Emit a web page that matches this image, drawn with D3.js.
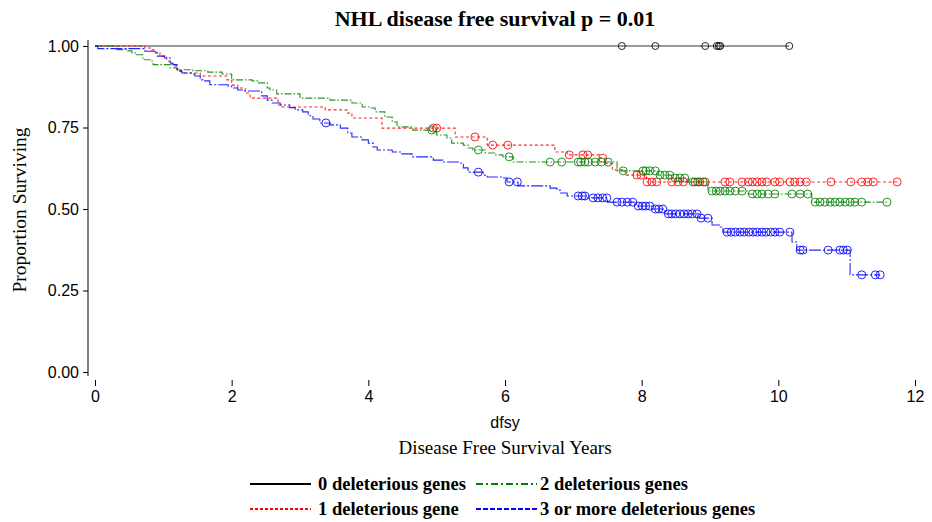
<!DOCTYPE html>
<html>
<head>
<meta charset="utf-8">
<script src="https://cdn.jsdelivr.net/npm/d3@7"></script>
<style>
  body { margin: 0; background: #fff; }
  svg { display: block; }
</style>
</head>
<body>
<div id="chart"></div>
<script>
// Kaplan-Meier curves, values

// Tick labels
var xTicks = [0, 2, 4, 6, 8, 10, 12];
var yTicks = [0, 0.25, 0.5, 0.75, 1];

// Group names (legend order)
var groupNames = ["0 deleterious genes", "1 deleterious gene", "2 deleterious genes", "3 or more deleterious genes"];

// 0 deleterious genes: no events, only censored
var g0Times = [];
var g0Surv = [];
var g0Censor = [7.71, 8.20, 8.93, 9.10, 9.13, 9.15, 10.16];

// 1 deleterious gene
var g1Times = [0.73, 0.83, 0.88, 0.95, 1.05, 1.10, 1.17, 1.21, 1.27, 1.54, 1.93, 2.00, 2.09, 2.20, 2.27, 2.66, 2.68, 2.74,
  3.37, 3.70, 3.76, 4.20, 5.27, 5.74, 6.73, 6.91, 7.39, 7.46, 7.57, 7.76, 8.07];
var g1Surv = [0.994, 0.988, 0.979, 0.969, 0.954, 0.945, 0.939, 0.923, 0.917, 0.908, 0.896, 0.880, 0.871, 0.856, 0.840, 0.834, 0.819, 0.813,
  0.804, 0.794, 0.779, 0.748, 0.721, 0.696, 0.675, 0.666, 0.656, 0.640, 0.620, 0.604, 0.583];
var g1Censor = [4.95, 5.00, 5.56, 5.82, 6.04, 6.94, 7.14, 7.21, 7.43, 7.93, 7.99, 8.08, 8.15, 8.22, 8.44, 8.53, 8.61, 8.78, 8.85, 8.93,
  9.22, 9.29, 9.47, 9.56, 9.62, 9.69, 9.76, 9.83, 9.95, 10.02, 10.17, 10.24, 10.32, 10.41, 10.77, 11.06, 11.22, 11.31, 11.39, 11.74];

// 2 deleterious genes
var g2Times = [0.32, 0.48, 0.54, 0.61, 0.70, 0.83, 0.85, 1.10, 1.20, 1.43, 1.65, 1.86, 2.00, 2.30, 2.39, 2.52, 2.56, 2.66,
  3.00, 3.44, 3.76, 3.91, 4.02, 4.10, 4.24, 4.35, 4.42, 4.65, 5.00, 5.15, 5.22, 5.39, 5.46, 5.53, 5.71, 5.85, 5.97, 6.12,
  7.64, 8.24, 8.44, 8.68, 8.97, 9.56, 10.49];
var g2Surv = [0.989, 0.985, 0.979, 0.973, 0.958, 0.954, 0.943, 0.933, 0.927, 0.924, 0.920, 0.914, 0.896, 0.893, 0.887, 0.871, 0.865, 0.853,
  0.840, 0.834, 0.825, 0.813, 0.810, 0.798, 0.782, 0.767, 0.752, 0.742, 0.727, 0.718, 0.702, 0.696, 0.687, 0.681, 0.672, 0.666, 0.660, 0.644,
  0.617, 0.604, 0.595, 0.583, 0.555, 0.546, 0.521];
var g2Censor = [4.93, 5.61, 6.06, 6.66, 6.83, 7.07, 7.11, 7.17, 7.22, 7.32, 7.41, 7.51, 7.73, 8.02, 8.06, 8.12, 8.20, 8.27, 8.34, 8.41,
  8.49, 8.56, 8.63, 8.75, 8.82, 8.90, 9.03, 9.09, 9.15, 9.22, 9.29, 9.37, 9.47, 9.62, 9.69, 9.76, 9.85, 9.95, 10.20, 10.32, 10.43,
  10.54, 10.61, 10.68, 10.76, 10.83, 10.90, 10.98, 11.05, 11.12, 11.22, 11.59];

// 3 or more deleterious genes
var g3Times = [0.04, 0.73, 0.91, 1.02, 1.10, 1.14, 1.20, 1.24, 1.27, 1.42, 1.46, 1.54, 1.58, 1.68, 1.95, 2.00, 2.09, 2.17, 2.44, 2.52,
  2.59, 2.71, 2.85, 2.93, 3.04, 3.12, 3.19, 3.29, 3.44, 3.59, 3.70, 3.76, 3.91, 4.00, 4.07, 4.13, 4.35, 4.49, 4.64, 4.95, 5.09,
  5.34, 5.39, 5.46, 5.68, 5.74, 5.97, 6.03, 6.19, 6.66, 6.76, 6.81, 6.91, 7.21, 7.50, 7.92, 8.15, 8.34, 8.84, 9.03, 9.15, 9.19,
  10.20, 10.27, 11.05];
var g3Surv = [0.992, 0.984, 0.969, 0.963, 0.948, 0.943, 0.927, 0.923, 0.917, 0.914, 0.908, 0.896, 0.893, 0.881, 0.877, 0.871, 0.865, 0.862, 0.847, 0.834,
  0.825, 0.819, 0.811, 0.804, 0.798, 0.786, 0.776, 0.764, 0.758, 0.748, 0.733, 0.721, 0.712, 0.702, 0.690, 0.681, 0.675, 0.669, 0.660, 0.650, 0.644,
  0.641, 0.626, 0.613, 0.604, 0.598, 0.595, 0.583, 0.571, 0.564, 0.558, 0.549, 0.540, 0.534, 0.521, 0.509, 0.500, 0.485, 0.472, 0.451, 0.445, 0.429,
  0.399, 0.374, 0.298];
var g3Censor = [3.38, 5.61, 6.06, 6.18, 7.07, 7.13, 7.17, 7.29, 7.36, 7.43, 7.49, 7.64, 7.71, 7.79, 7.87, 7.95, 8.01, 8.06, 8.12,
  8.20, 8.25, 8.31, 8.39, 8.44, 8.50, 8.56, 8.62, 8.68, 8.74, 8.81, 8.87, 8.97, 9.25, 9.31, 9.37, 9.44, 9.50, 9.57, 9.63, 9.69,
  9.76, 9.82, 9.89, 9.95, 10.02, 10.17, 10.32, 10.36, 10.73, 10.90, 10.95, 11.01, 11.22, 11.42, 11.49];

// Series styles
var colors = ["#000000", "#ff0000", "#008000", "#0000ff"];
var dashes = [null, "3,2.5", "7,2,1.5,2", "12,2,2,2"];
var legendDashes = [null, "3,2", "7,3,2,3", "5,2"];

var groups = [
  { times: g0Times, surv: g0Surv, censor: g0Censor },
  { times: g1Times, surv: g1Surv, censor: g1Censor },
  { times: g2Times, surv: g2Surv, censor: g2Censor },
  { times: g3Times, surv: g3Surv, censor: g3Censor }
];

// SVG setup
var svgWidth = 932;
var svgHeight = 522;
var serif = "'Liberation Serif', 'Times New Roman', serif";
var sans = "'Liberation Sans', Arial, sans-serif";

var svg = d3.select("#chart").append("svg")
  .attr("width", svgWidth)
  .attr("height", svgHeight);

// Scales
var xScale = d3.scaleLinear().domain([0, 12]).range([95, 915]);
var yScale = d3.scaleLinear().domain([0, 1]).range([372, 46]);

// Title
svg.append("text")
  .attr("x", 495)
  .attr("y", 26)
  .attr("text-anchor", "middle")
  .style("font-family", serif)
  .style("font-weight", "bold")
  .style("font-size", "22px")
  .text("NHL disease free survival p = 0.01");

// Y axis
var yAxis = d3.axisLeft(yScale)
  .tickValues(yTicks)
  .tickFormat(d3.format(".2f"))
  .tickSize(5)
  .tickSizeOuter(0);
var yAxisG = svg.append("g")
  .attr("transform", "translate(88,0)")
  .call(yAxis);
yAxisG.select(".domain").attr("d", "M0,40V376");
yAxisG.selectAll("text")
  .style("font-family", sans)
  .style("font-size", "16px")
  .attr("x", -9)
  .attr("fill", "#000");
yAxisG.selectAll("line").attr("stroke", "#000");

// X axis (ticks only, no line)
var xAxis = d3.axisBottom(xScale)
  .tickValues(xTicks)
  .tickFormat(d3.format("d"))
  .tickSize(6)
  .tickSizeOuter(0);
var xAxisG = svg.append("g")
  .attr("transform", "translate(0,380)")
  .call(xAxis);
xAxisG.select(".domain").remove();
xAxisG.selectAll("text")
  .style("font-family", sans)
  .style("font-size", "16px")
  .attr("y", 11)
  .attr("fill", "#000");

// Axis titles
svg.append("text")
  .attr("x", 505)
  .attr("y", 428)
  .attr("text-anchor", "middle")
  .style("font-family", sans)
  .style("font-size", "16px")
  .text("dfsy");

svg.append("text")
  .attr("x", 505)
  .attr("y", 454)
  .attr("text-anchor", "middle")
  .style("font-family", serif)
  .style("font-size", "19px")
  .text("Disease Free Survival Years");

svg.append("text")
  .attr("transform", "translate(26,210) rotate(-90)")
  .attr("text-anchor", "middle")
  .style("font-family", serif)
  .style("font-size", "19.5px")
  .text("Proportion Surviving");

// Step function value at time t
function survAt(g, t) {
  var s = 1;
  for (var i = 0; i < g.times.length; i++) {
    if (g.times[i] <= t) s = g.surv[i];
  }
  return s;
}

var line = d3.line()
  .x(d => xScale(d[0]))
  .y(d => yScale(d[1]))
  .curve(d3.curveStepAfter);

var plot = svg.append("g");

groups.forEach(function(g, i) {
  var pts = [[0, 1]];
  g.times.forEach((t, k) => pts.push([t, g.surv[k]]));
  var tEnd = d3.max(g.censor.concat(g.times));
  pts.push([tEnd, survAt(g, tEnd)]);

  plot.append("path")
    .datum(pts)
    .attr("d", line)
    .attr("fill", "none")
    .attr("stroke", colors[i])
    .attr("stroke-width", i === 0 ? 1 : 1.1)
    .attr("stroke-opacity", i === 0 ? 0.8 : 0.85)
    .attr("stroke-dasharray", dashes[i]);

  plot.selectAll(".c" + i)
    .data(g.censor)
    .enter().append("circle")
    .attr("class", "c" + i)
    .attr("cx", d => xScale(d))
    .attr("cy", d => yScale(survAt(g, d)))
    .attr("r", i === 0 ? 3.5 : 4)
    .attr("fill", "none")
    .attr("stroke", colors[i])
    .attr("stroke-opacity", 0.85)
    .attr("stroke-width", 1);
});

// Legend
var legendPos = [[250, 484], [250, 509], [476, 484], [476, 509]];
var legend = svg.append("g");
groupNames.forEach(function(name, i) {
  var p = legendPos[i];
  legend.append("line")
    .attr("x1", p[0]).attr("x2", p[0] + 61)
    .attr("y1", p[1]).attr("y2", p[1])
    .attr("stroke", colors[i])
    .attr("stroke-width", 2)
    .attr("stroke-dasharray", legendDashes[i]);
  legend.append("text")
    .attr("x", i < 2 ? p[0] + 68 : p[0] + 64)
    .attr("y", p[1] + 6)
    .style("font-family", serif)
    .style("font-weight", "bold")
    .style("font-size", "18.5px")
    .text(name);
});
</script>
</body>
</html>
